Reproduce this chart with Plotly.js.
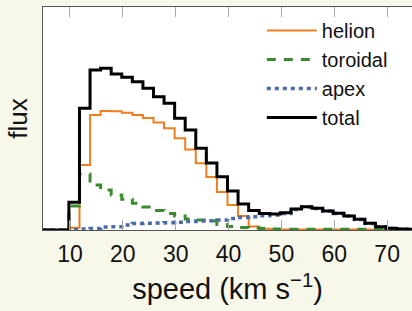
<!DOCTYPE html>
<html>
<head>
<meta charset="utf-8">
<script src="https://cdn.plot.ly/plotly-3.0.1.min.js"></script>
<style>
html, body { margin: 0; padding: 0; background: #f7f7ea; overflow: hidden; }
#chart { width: 412px; height: 311px; }
</style>
</head>
<body>
<div id="chart"></div>
<script>
// Left edges of the 2 km/s histogram bins
const binLeftEdges = [1.8, 3.8, 5.8, 7.8, 9.8, 11.8, 13.8, 15.8, 17.8, 19.8, 21.8, 23.8, 25.8, 27.8,
  29.8, 31.8, 33.8, 35.8, 37.8, 39.8, 41.8, 43.8, 45.8, 47.8, 49.8, 51.8, 53.8, 55.8, 57.8,
  59.8, 61.8, 63.8, 65.8, 67.8, 69.8, 71.8, 73.8, 75.8];
const binWidth = 2;

// Flux per bin (arbitrary units)
const helion = [0, 0, 0, 0, 2.3, 65, 115, 119, 118.7, 117.3, 115, 112, 107.5, 101.7,
  91.7, 80.5, 66.7, 53, 38, 25, 14, 3.5, 1.2, 0.7, 0.5, 0.5, 0.5, 0.5, 0.5,
  0.5, 0.5, 0.5, 0.5, 0.5, 0.4, 0.3, 0.2, 0.1];
const toroidal = [0, 0, 0, 0, 24, 56, 45, 40, 35, 30.7, 26.7, 23, 19.5, 16.5,
  14, 11, 10, 9, 5.5, 3.5, 2.5, 2, 1.5, 1, 0.7, 0.7, 0.7, 0.7, 0.7,
  0.7, 0.7, 0.7, 0.7, 0.5, 0.4, 0.2, 0.1, 0.1];
const apex = [0, 0, 0, 0, 0.5, 1, 1.5, 3, 3.3, 5, 6.5, 6.7, 7, 7.3,
  7.7, 8.5, 9, 9.3, 10, 11.5, 12.5, 13.3, 14.3, 15, 16.5, 20.5, 23, 21.5, 19,
  16.5, 14, 10.5, 6.5, 3.2, 1.5, 0.8, 0.5, 0.3];
const total = [0, 0, 0, 0, 27.7, 121.7, 160, 161.7, 156, 152.7, 148.3, 141.7, 133.3, 126.7,
  111.7, 100, 81.7, 67, 53.3, 39, 26, 19.5, 16.5, 16, 17.3, 21, 23.3, 21.7, 19,
  16.7, 14, 10.7, 6.7, 3.3, 1.7, 1, 0.7, 0.5];

const xTickVals = [10, 20, 30, 40, 50, 60, 70];
const xTickText = ['10', '20', '30', '40', '50', '60', '70'];

const seriesNames = ['helion', 'toroidal', 'apex', 'total'];

function stepXY(values) {
  const x = binLeftEdges.slice();
  const y = values.slice();
  x.push(binLeftEdges[binLeftEdges.length - 1] + binWidth);
  y.push(values[values.length - 1]);
  return {x, y};
}

function trace(name, values, line, rank) {
  const s = stepXY(values);
  return {
    type: 'scatter', mode: 'lines', name: name,
    x: s.x, y: s.y,
    line: Object.assign({shape: 'hv'}, line),
    legendrank: rank,
    hoverinfo: 'skip'
  };
}

const data = [
  trace(seriesNames[0], helion, {color: '#f07d1e', width: 2}, 1),
  trace(seriesNames[1], toroidal, {color: '#3b8a2f', width: 3, dash: '9px,8px'}, 2),
  trace(seriesNames[2], apex, {color: '#4a6aa8', width: 3.5, dash: '4px,4px'}, 3),
  trace(seriesNames[3], total, {color: '#000000', width: 3}, 4)
];

const layout = {
  width: 412, height: 311,
  paper_bgcolor: '#f7f7ea',
  plot_bgcolor: '#ffffff',
  margin: {l: 43, r: 0, t: 7, b: 81, pad: 0},
  font: {family: '"Liberation Sans", Arial, sans-serif', color: '#111111'},
  showlegend: true,
  legend: {
    x: 0.593, y: 0.982, xanchor: 'left', yanchor: 'top',
    bgcolor: 'rgba(0,0,0,0)', borderwidth: 0,
    font: {size: 20, color: '#111111'},
    tracegroupgap: 0, itemwidth: 50
  },
  xaxis: {
    range: [4.9, 74.7],
    tickmode: 'array', tickvals: xTickVals, ticktext: xTickText,
    ticks: 'inside', ticklen: 10, tickwidth: 1, tickcolor: '#aaaaaa',
    showline: true, linecolor: '#555555', linewidth: 1, mirror: 'ticks',
    showgrid: false, zeroline: false,
    ticklabelstandoff: 3,
    tickfont: {size: 23, color: '#111111'},
    title: {text: 'speed (km s<sup>−1</sup>)', font: {size: 29, color: '#111111'}, standoff: 13}
  },
  yaxis: {
    range: [0, 223],
    showticklabels: false, ticks: '',
    showline: true, linecolor: '#555555', linewidth: 1, mirror: false,
    showgrid: false, zeroline: false,
    title: {text: 'flux', font: {size: 26, color: '#111111'}, standoff: 6}
  }
};

Plotly.newPlot('chart', data, layout, {displayModeBar: false, staticPlot: true});
</script>
</body>
</html>
